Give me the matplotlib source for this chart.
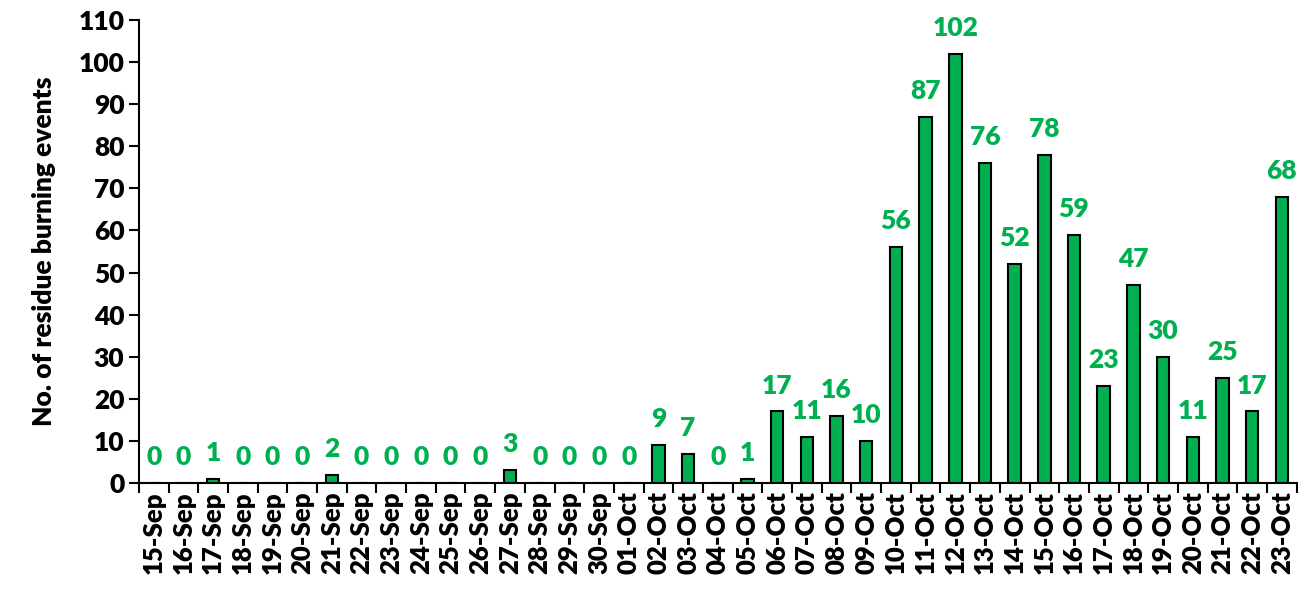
import numpy as np
import matplotlib.pyplot as plt

plt.rcParams['font.family'] = ['Lato', 'DejaVu Sans']
plt.rcParams['font.weight'] = 'heavy'

dates = ['15-Sep', '16-Sep', '17-Sep', '18-Sep', '19-Sep', '20-Sep', '21-Sep',
         '22-Sep', '23-Sep', '24-Sep', '25-Sep', '26-Sep', '27-Sep', '28-Sep',
         '29-Sep', '30-Sep', '01-Oct', '02-Oct', '03-Oct', '04-Oct', '05-Oct',
         '06-Oct', '07-Oct', '08-Oct', '09-Oct', '10-Oct', '11-Oct', '12-Oct',
         '13-Oct', '14-Oct', '15-Oct', '16-Oct', '17-Oct', '18-Oct', '19-Oct',
         '20-Oct', '21-Oct', '22-Oct', '23-Oct']
events = [0, 0, 1, 0, 0, 0, 2, 0, 0, 0, 0, 0, 3, 0, 0, 0, 0, 9, 7, 0, 1,
          17, 11, 16, 10, 56, 87, 102, 76, 52, 78, 59, 23, 47, 30, 11, 25, 17, 68]

green = '#00B050'

fig = plt.figure(figsize=(12.98, 5.89), dpi=100)
ax = fig.add_axes([0.107, 0.18, 0.892, 0.786])

x = np.arange(len(dates))
bars = ax.bar(x, events, width=0.42, color=green, edgecolor='black', linewidth=1.5)
for xi, v in zip(x, events):
    ax.annotate(str(v), (xi, v), xytext=(0, 10), textcoords='offset points',
                ha='center', va='bottom', color=green, fontsize=19, fontweight='heavy')

ax.set_xlim(-0.5, len(dates) - 0.5)
ax.set_ylim(0, 110)
ax.set_yticks(np.arange(0, 111, 10))
ax.set_xticks(x)
ax.set_xticklabels(dates, rotation=90, fontsize=18.5, fontweight='heavy')
ax.set_xticks(np.arange(-0.5, len(dates), 1), minor=True)
ax.tick_params(axis='x', which='major', length=0, pad=6)
ax.tick_params(axis='x', which='minor', length=7, width=1.5, direction='out')
ax.tick_params(axis='y', length=7, width=1.5, labelsize=19)
for lbl in ax.get_yticklabels():
    lbl.set_fontweight('heavy')

for s in ['top', 'right']:
    ax.spines[s].set_visible(False)
for s in ['left', 'bottom']:
    ax.spines[s].set_linewidth(1.5)

ax.set_ylabel('No. of residue burning events', fontsize=19, fontweight='heavy', labelpad=16)

fig.savefig('out.png', dpi=100)
